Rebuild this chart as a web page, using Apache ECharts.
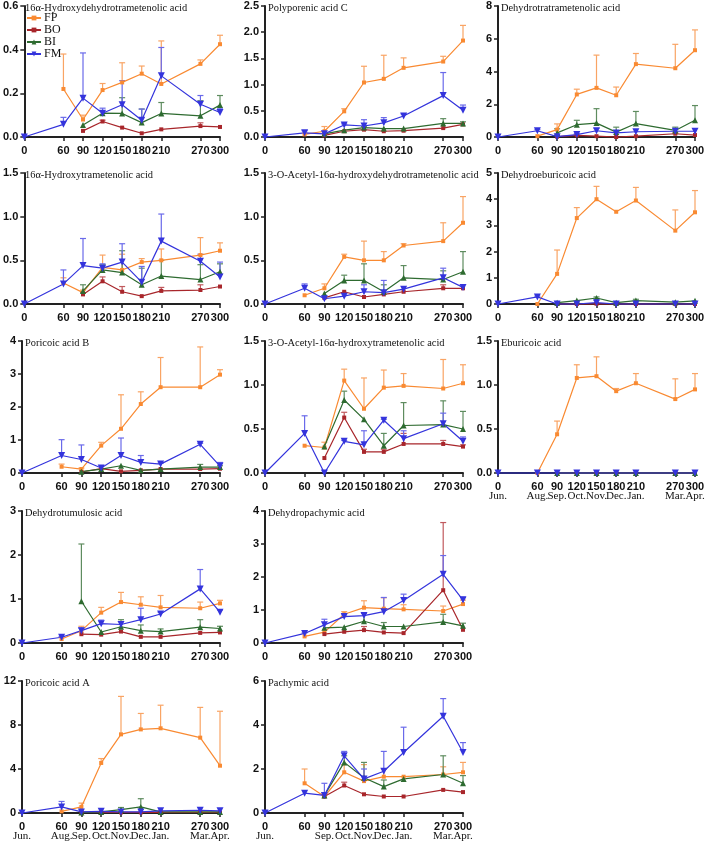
<!DOCTYPE html>
<html><head><meta charset="utf-8">
<script src="https://cdn.jsdelivr.net/npm/echarts@6/dist/echarts.min.js"></script>
<style>html,body{margin:0;padding:0;background:#fff}#c{width:708px;height:841px}</style>
</head><body><div id="c"></div>
<script>
const days = [0, 60, 90, 120, 150, 180, 210, 270, 300];
const months = ['Jun.', 'Aug.', 'Sep.', 'Oct.', 'Nov.', 'Dec.', 'Jan.', 'Mar.', 'Apr.'];
const monthsPachymic = ['Jun.', '', 'Sep.', 'Oct.', 'Nov.', 'Dec.', 'Jan.', 'Mar.', 'Apr.'];
const titles = [
  '16α-Hydroxydehydrotrametenolic acid', 'Polyporenic acid C', 'Dehydrotratrametenolic acid',
  '16α-Hydroxytrametenolic acid', '3-O-Acetyl-16α-hydroxydehydrotrametenolic acid', 'Dehydroeburicoic acid',
  'Poricoic acid B', '3-O-Acetyl-16α-hydroxytrametenolic acid', 'Eburicoic acid',
  'Dehydrotumulosic acid', 'Dehydropachymic acid',
  'Poricoic acid A', 'Pachymic acid'
];
const yMax = [0.6, 2.5, 8, 1.5, 1.5, 5, 4, 1.5, 1.5, 3, 4, 12, 6];
const yStep = [0.2, 0.5, 2, 0.5, 0.5, 1, 1, 0.5, 0.5, 1, 1, 4, 2];
const yDecimals = [1, 1, 0, 1, 1, 0, 0, 1, 1, 0, 0, 0, 0];
const seriesNames = ['FP', 'BO', 'BI', 'FM'];

const FP_mean = [
  [null, 0.22, 0.08, 0.215, 0.25, 0.29, 0.243, 0.335, 0.425],
  [null, 0.05, 0.11, 0.49, 1.04, 1.11, 1.32, 1.44, 1.84],
  [null, 0.05, 0.45, 2.6, 3.0, 2.55, 4.45, 4.2, 5.3],
  [null, 0.24, 0.13, 0.42, 0.39, 0.48, 0.5, 0.56, 0.61],
  [null, 0.1, 0.18, 0.54, 0.5, 0.5, 0.67, 0.72, 0.93],
  [null, 0.0, 1.15, 3.28, 4.0, 3.52, 3.95, 2.8, 3.5],
  [null, 0.19, 0.12, 0.83, 1.34, 2.09, 2.6, 2.6, 2.98],
  [null, 0.31, 0.29, 1.05, 0.73, 0.97, 0.99, 0.96, 1.02],
  [null, 0.0, 0.44, 1.08, 1.1, 0.93, 1.02, 0.84, 0.95],
  [null, 0.09, 0.28, 0.69, 0.93, 0.87, 0.81, 0.79, 0.9],
  [null, 0.2, 0.33, 0.87, 1.07, 1.04, 1.02, 0.97, 1.18],
  [null, 0.15, 0.55, 4.55, 7.15, 7.6, 7.7, 6.85, 4.3],
  [null, 1.35, 0.75, 1.85, 1.45, 1.65, 1.65, 1.75, 1.85]
];
const FP_top = [
  [null, 0.38, 0.10, 0.245, 0.34, 0.325, 0.44, 0.353, 0.466],
  [null, null, 0.2, 0.54, 1.35, 1.56, 1.51, 1.54, 2.13],
  [null, null, 0.8, 2.92, 5.0, 3.05, 5.1, 5.66, 6.54],
  [null, 0.3, 0.16, 0.56, 0.57, 0.52, 0.63, 0.76, 0.7],
  [null, null, 0.23, 0.57, 0.72, 0.6, 0.69, 0.93, 1.23],
  [null, null, 2.06, 3.68, 4.49, null, 4.45, 3.59, 4.33],
  [null, 0.27, 0.15, 0.93, 2.37, 2.46, 3.5, 3.82, 3.13],
  [null, null, 0.35, 1.18, 1.08, 1.17, 1.13, 1.29, 1.23],
  [null, null, 0.59, 1.23, 1.32, 0.96, 1.13, 1.07, 1.13],
  [null, null, 0.38, 0.81, 1.15, 1.05, 1.08, 0.93, 0.97],
  [null, null, null, 0.95, 1.28, 1.37, 1.16, 1.12, 1.3],
  [null, null, 0.9, 4.95, 10.6, 9.05, 9.8, 9.6, 9.25],
  [null, 2.0, 0.9, 2.2, 2.2, 2.0, null, 2.1, 2.3]
];
const BO_mean = [
  [null, null, 0.028, 0.071, 0.043, 0.017, 0.035, 0.05, 0.046],
  [null, null, 0.03, 0.11, 0.14, 0.11, 0.12, 0.17, 0.24],
  [null, null, 0.02, 0.1, 0.05, 0.0, 0.05, 0.2, 0.12],
  [null, null, 0.11, 0.26, 0.14, 0.09, 0.15, 0.16, 0.2],
  [null, null, 0.07, 0.14, 0.08, 0.11, 0.14, 0.18, 0.18],
  [null, null, 0, 0, 0.01, 0, 0, 0, 0],
  [null, null, 0.03, 0.13, 0.05, 0.08, 0.12, 0.12, 0.13],
  [null, null, 0.17, 0.63, 0.24, 0.24, 0.33, 0.33, 0.3],
  [null, null, 0, 0, 0, 0, 0, 0, 0],
  [null, null, 0.2, 0.19, 0.26, 0.14, 0.14, 0.23, 0.24],
  [null, null, 0.27, 0.34, 0.39, 0.32, 0.3, 1.6, 0.4],
  [null, null, 0.05, 0.05, 0.05, 0.05, 0.05, 0.05, 0.05],
  [null, null, 0.75, 1.25, 0.85, 0.75, 0.75, 1.05, 0.95]
];
const BO_top = [
  [null, null, null, 0.077, null, null, null, 0.065, null],
  [null, null, null, null, null, null, null, null, null],
  [null, null, null, null, null, null, null, 0.25, null],
  [null, null, 0.13, 0.31, 0.2, null, 0.19, 0.22, null],
  [null, null, null, null, null, null, null, 0.22, null],
  [null, null, null, null, null, null, null, null, null],
  [null, null, null, null, null, null, null, null, null],
  [null, null, null, 0.69, 0.27, 0.27, 0.45, 0.37, 0.32],
  [null, null, null, null, null, null, null, null, null],
  [null, null, null, null, null, null, null, null, null],
  [null, null, null, null, 0.5, null, null, 3.65, null],
  [null, null, null, null, null, null, null, null, null],
  [null, null, null, 1.4, null, null, null, null, null]
];
const BI_mean = [
  [null, null, 0.055, 0.109, 0.108, 0.066, 0.108, 0.097, 0.146],
  [null, null, 0.06, 0.13, 0.18, 0.16, 0.16, 0.26, 0.26],
  [null, null, 0.25, 0.75, 0.85, 0.3, 0.82, 0.4, 1.02],
  [null, null, 0.15, 0.39, 0.36, 0.22, 0.32, 0.28, 0.37],
  [null, null, 0.12, 0.27, 0.27, 0.14, 0.3, 0.28, 0.37],
  [null, null, 0.05, 0.13, 0.23, 0.05, 0.13, 0.07, 0.12],
  [null, null, 0.04, 0.12, 0.22, 0.08, 0.12, 0.18, 0.18],
  [null, null, 0.3, 0.83, 0.61, 0.31, 0.54, 0.55, 0.5],
  [null, null, 0, 0, 0, 0, 0, 0, 0],
  [null, null, 0.95, 0.25, 0.37, 0.28, 0.26, 0.36, 0.33],
  [null, null, 0.46, 0.48, 0.66, 0.5, 0.5, 0.64, 0.52],
  [null, null, 0.05, 0.1, 0.3, 0.55, 0.1, 0.1, 0.1],
  [null, null, 0.8, 2.3, 1.6, 1.2, 1.55, 1.75, 1.35]
];
const BI_top = [
  [null, null, null, null, 0.18, 0.128, 0.158, 0.166, 0.19],
  [null, null, null, null, 0.2, null, null, 0.35, 0.29],
  [null, null, 0.5, 1.02, 1.73, 0.6, 1.56, 0.6, 1.92],
  [null, null, 0.22, 0.45, 0.61, 0.41, 0.5, 0.45, 0.46],
  [null, null, null, 0.33, 0.46, 0.22, 0.44, 0.38, 0.6],
  [null, null, null, null, 0.27, null, 0.18, null, null],
  [null, null, null, null, null, null, null, 0.26, 0.22],
  [null, null, null, 0.93, null, 0.45, 0.8, 0.82, 0.7],
  [null, null, null, null, null, null, null, null, null],
  [null, null, 2.25, null, 0.53, 0.41, 0.32, 0.53, 0.38],
  [null, null, null, null, 0.9, 0.62, null, 0.87, 0.6],
  [null, null, null, null, 0.5, 1.3, null, null, null],
  [null, null, null, 2.6, 2.3, 1.5, null, 2.6, 1.7]
];
const FM_mean = [
  [0, 0.058, 0.178, 0.109, 0.148, 0.077, 0.28, 0.15, 0.112],
  [0, 0.08, 0.06, 0.23, 0.21, 0.27, 0.40, 0.79, 0.51],
  [0, 0.38, 0.02, 0.15, 0.38, 0.25, 0.32, 0.35, 0.35],
  [0, 0.23, 0.44, 0.41, 0.48, 0.25, 0.72, 0.49, 0.31],
  [0, 0.18, 0.06, 0.09, 0.14, 0.13, 0.17, 0.3, 0.19],
  [0, 0.27, 0, 0, 0.05, 0, 0, 0, 0],
  [0, 0.53, 0.41, 0.15, 0.53, 0.32, 0.27, 0.87, 0.21],
  [0, 0.45, 0, 0.36, 0.32, 0.6, 0.39, 0.56, 0.36],
  [0, 0, 0, 0, 0, 0, 0, 0, 0],
  [0, 0.13, 0.28, 0.44, 0.42, 0.53, 0.66, 1.23, 0.7],
  [0, 0.29, 0.55, 0.8, 0.83, 0.95, 1.29, 2.08, 1.3],
  [0, 0.55, 0.1, 0.15, 0.1, 0.1, 0.2, 0.25, 0.2],
  [0, 0.9, 0.8, 2.6, 1.55, 1.9, 2.75, 4.4, 2.75]
];
const FM_top = [
  [null, 0.09, 0.385, 0.132, 0.258, 0.128, 0.41, 0.19, 0.132],
  [null, 0.12, null, 0.25, 0.33, 0.37, 0.44, 1.23, 0.61],
  [null, 0.45, null, 0.2, 0.52, null, null, null, null],
  [null, 0.39, 0.75, 0.46, 0.69, 0.43, 1.03, 0.57, 0.48],
  [null, 0.23, null, null, 0.22, 0.27, null, 0.41, null],
  [null, 0.3, null, null, null, null, null, null, null],
  [null, 1.01, 0.85, null, 1.06, 0.53, 0.3, 0.9, 0.32],
  [null, 0.65, null, 0.37, 0.48, 0.61, 0.48, 0.68, 0.41],
  [null, null, null, null, null, null, null, null, null],
  [null, 0.15, 0.34, 0.52, null, 0.79, 0.7, 1.67, 0.75],
  [null, 0.31, 0.72, 0.85, 0.9, 1.38, 1.48, 2.65, 1.4],
  [null, 1.05, null, null, null, null, null, null, null],
  [null, null, 1.35, 2.8, 2.0, 2.8, 3.9, 5.2, 3.2]
];

const means = { FP: FP_mean, BO: BO_mean, BI: BI_mean, FM: FM_mean };
const tops = { FP: FP_top, BO: BO_top, BI: BI_top, FM: FM_top };
const colors = { FP: '#F98A32', BO: '#A8262B', BI: '#2E6B30', FM: '#3434DC' };
const errColors = { FP: '#F9A464', BO: '#C05A5E', BI: '#5E8C5F', FM: '#6A6AEA' };
const symbols = { FP: 'rect', BO: 'rect', BI: 'triangle', FM: 'triangle' };
const symSizes = { FP: 4, BO: 4, BI: 6, FM: 7 };
const symRot = { FP: 0, BO: 0, BI: 0, FM: 180 };

// layout
const colLeft = [22, 265, 498];
const colWidth = [198, 198, 197];
const rowTop = [6, 173, 341, 511, 681];
const rowHeight = [131, 131, 132, 132, 132];
const panelPos = [[0,0],[0,1],[0,2],[1,0],[1,1],[1,2],[2,0],[2,1],[2,2],[3,0],[3,1],[4,0],[4,1]];
const monthLists = { 8: months, 11: months, 12: monthsPachymic };

const grids = [], xAxes = [], yAxes = [], series = [], titleList = [];
const axisColor = '#222';
panelPos.forEach(([r, c], p) => {
  grids.push({ left: colLeft[c], top: rowTop[r], width: colWidth[c], height: rowHeight[r], containLabel: false });
  xAxes.push({
    gridIndex: p, type: 'value', min: 0, max: 300, position: 'bottom',
    axisLine: { show: true, onZero: false, lineStyle: { color: axisColor, width: 2 } },
    axisTick: { show: true, customValues: days, length: 4, lineStyle: { color: axisColor, width: 1.5 } },
    splitLine: { show: false },
    axisLabel: {
      customValues: days, margin: 8, color: '#111',
      hideOverlap: false, showMinLabel: true, showMaxLabel: true,
      fontFamily: 'Liberation Sans', fontWeight: 'bold', fontSize: 11,
      formatter: (v) => String(v)
    }
  });
  yAxes.push({
    gridIndex: p, type: 'value', min: 0, max: yMax[p], interval: yStep[p],
    axisLine: { show: true, lineStyle: { color: axisColor, width: 2 } },
    axisTick: { show: true, length: 4, lineStyle: { color: axisColor, width: 1.5 } },
    splitLine: { show: false },
    axisLabel: {
      margin: 6, color: '#111', fontFamily: 'Liberation Sans', fontWeight: 'bold', fontSize: 11,
      showMinLabel: true, showMaxLabel: true,
      formatter: (v) => v.toFixed(yDecimals[p])
    }
  });
  titleList.push({
    text: titles[p], left: colLeft[c] + 3, top: rowTop[r] - 3, padding: 0,
    textStyle: { fontFamily: 'Liberation Serif', fontWeight: 'normal', fontSize: 10.4, color: '#111' }
  });
  seriesNames.forEach((name) => {
    const m = means[name][p], t = tops[name][p];
    const lineData = [], errData = [];
    days.forEach((d, i) => {
      if (m[i] !== null) lineData.push([d, m[i]]);
      if (m[i] !== null && t[i] !== null) errData.push([d, m[i], t[i]]);
    });
    const ec = errColors[name];
    series.push({
      type: 'custom', xAxisIndex: p, yAxisIndex: p, data: errData, silent: true, z: 2,
      encode: { x: 0, y: [1, 2] },
      renderItem: (params, api) => {
        const a = api.coord([api.value(0), api.value(1)]);
        const b = api.coord([api.value(0), api.value(2)]);
        return {
          type: 'group', children: [
            { type: 'line', shape: { x1: a[0], y1: a[1], x2: b[0], y2: b[1] }, style: { stroke: ec, lineWidth: 1.2 } },
            { type: 'line', shape: { x1: b[0] - 3, y1: b[1], x2: b[0] + 3, y2: b[1] }, style: { stroke: ec, lineWidth: 1.2 } }
          ]
        };
      }
    });
    series.push({
      name: name, type: 'line', xAxisIndex: p, yAxisIndex: p, data: lineData, z: 3,
      symbol: symbols[name], symbolSize: symSizes[name], symbolRotate: symRot[name],
      showAllSymbol: true, clip: false, animation: false,
      lineStyle: { color: colors[name], width: 1.2 },
      itemStyle: { color: colors[name] }
    });
  });
});

const chart = echarts.init(document.getElementById('c'), null, { renderer: 'canvas' });
chart.setOption({
  animation: false,
  backgroundColor: '#fff',
  title: titleList,
  grid: grids, xAxis: xAxes, yAxis: yAxes, series: series,
  legend: {
    data: seriesNames, orient: 'vertical', left: 26, top: 12, padding: 0,
    itemGap: 0, itemWidth: 14, itemHeight: 6,
    textStyle: { fontFamily: 'Liberation Serif', fontSize: 12, lineHeight: 10, color: '#111', padding: [0, 0, 0, -2] }
  }
});

// month names under the bottom panel of each column, positioned through the
// panel's own x scale (convertToPixel) as plain graphic text
const monthTexts = [];
Object.keys(monthLists).forEach((key) => {
  const p = Number(key);
  const mlist = monthLists[p];
  days.forEach((d, i) => {
    if (!mlist[i]) return;
    const pt = chart.convertToPixel({ gridIndex: p }, [d, 0]);
    monthTexts.push({
      type: 'text', x: pt[0], y: pt[1] + 23, silent: true, z: 10,
      style: {
        text: mlist[i], fill: '#111', fontFamily: 'Liberation Serif', fontSize: 11,
        align: 'center', verticalAlign: 'middle', textAlign: 'center', textVerticalAlign: 'middle'
      }
    });
  });
});
chart.setOption({ graphic: monthTexts });
</script></body></html>
